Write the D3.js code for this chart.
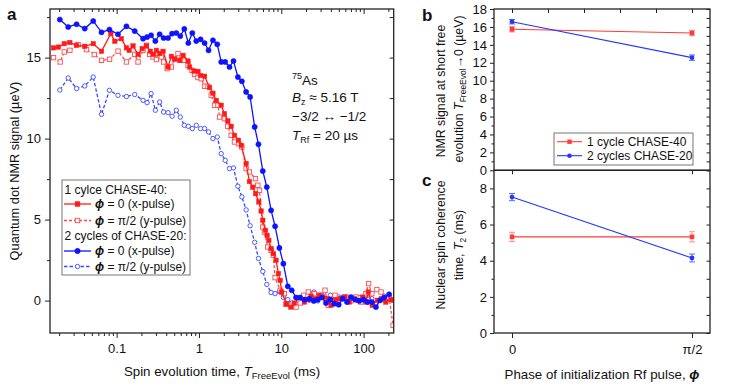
<!DOCTYPE html>
<html>
<head>
<meta charset="utf-8">
<script src="https://cdn.jsdelivr.net/npm/d3@7"></script>
<style>
  body { margin: 0; background: #fff; }
  svg text { font-family: "Liberation Sans", Arial, Helvetica, sans-serif; fill: #111; }
</style>
</head>
<body>
<svg id="chart" width="747" height="387"></svg>
<script>
// ---- panel a: NMR signal vs free evolution time (ms) ----
var tBlue = [0.0204,0.0258,0.0326,0.041,0.0519,0.0655,0.0817,0.1037,0.1315,0.1657,
  0.2094,0.2343,0.262,0.295,0.333,0.372,0.421,0.471,0.531,0.593,0.664,0.742,0.83,0.927,1.045,
  1.17,1.307,1.478,1.667,1.864,2.083,2.35,2.626,2.97,3.32,3.74,4.18,4.75,5.28,5.96,6.67,7.52,8.41,9.48,10.6,
  12.0,13.4,15.1,17.0,19.1,21.9,24.8,27.7,31.2,34.9,39.4,44.0,49.8,55.6,62.8,70.2,79.1,88.5,100,
  111.7,126,141,159,178,204];
var blueX = [17.35,16.89,17.06,16.79,17.26,16.56,16.73,16.44,16.93,16.64,
  16.17,16.27,16.38,16.02,16.44,16.21,16.21,16.48,16.52,16.33,16.77,15.9,16.52,16.02,16.13,
  15.9,15.45,16.07,15.82,14.73,14.73,14.42,14.79,13.8,13.54,12.88,12.57,10.72,9.65,8.0,7.01,5.57,4.59,3.25,2.28,
  0.88,0.64,0.19,0.19,0.06,0.12,-0.02,0.06,0.19,-0.15,0.06,-0.19,-0.25,0.12,-0.09,0.22,0.06,-0.02,0.06,
  -0.09,-0.09,-0.4,0.02,0.19,0.39];
var blueY = [13.0,13.74,13.09,13.25,13.8,11.5,12.98,12.67,12.6,12.72,
  12.36,12.22,12.78,11.75,12.26,11.64,11.6,11.38,11.75,11.33,10.82,10.76,10.62,10.82,10.62,
  10.62,10.41,10.0,10.1,9.07,8.66,8.15,8.19,7.06,6.4,5.6,4.62,3.6,2.6,1.8,1.0,0.5,0.43,0.55,0.19,
  0.06,-0.15,-0.19,-0.02,0.12,0.02,0.53,-0.02,0.33,0.12,0.33,-0.02,0.22,0.22,0.06,-0.02,0.19,0.19,0.06,
  0.33,0.12,-0.19,0.06,0.27,0.22];

var tRedX = [0.0171,0.0196,0.0231,0.027,0.0325,0.041,0.052,0.0655,0.085,0.095,
  0.114,0.1315,0.142,0.158,0.182,0.204,0.23,0.257,0.277,0.304,
  0.333,0.366,0.421,0.462,0.506,0.582,0.64,0.736,0.77,0.87,
  0.972,1.045,1.17,1.345,1.478,1.62,1.86,2.04,2.24,2.46,
  2.7,3.02,3.26,3.74,4.1,4.5,4.88,5.33,5.69,5.96,
  6.42,6.72,7.06,7.52,8.0,8.64,9.23,9.7,10.1,11.5,
  13.1,14.4,16.6,19.1,21.0,23.0,25.2,29.0,31.8,36.6,
  40.2,46.0,53.0,59.3,66.9,77.1,86.3,97.4,106.8,114,
  127,147,167,186,214,228];
var redX = [15.6,15.65,15.86,15.93,15.76,15.7,15.86,15.39,16.48,16.01,
  16.17,15.6,15.45,15.72,15.2,15.55,15.72,15.39,15.2,15.45,
  15.25,15.39,14.42,15.08,14.9,14.83,15.14,14.79,14.42,14.17,
  14.15,13.9,13.85,13.15,12.8,12.36,12.06,11.54,11.09,10.76,
  10.2,9.9,9.59,8.46,7.35,7.0,6.6,6.09,5.53,4.96,
  4.34,4.03,3.72,3.21,2.9,2.49,1.67,1.25,0.53,-0.2,
  -0.4,-0.15,0.19,-0.09,0.06,0.27,0.12,0.33,0.22,0.12,
  -0.29,0.06,0.12,0.22,-0.09,0.12,0.02,0.22,-0.09,0.53,
  -0.29,0.02,0.12,-0.09,0.06,0.02];

var tRedY = [0.0171,0.0206,0.0231,0.027,0.034,0.043,0.0535,0.0655,0.082,0.104,
  0.1315,0.166,0.182,0.209,0.23,0.252,0.277,0.304,0.318,0.349,
  0.372,0.41,0.462,0.506,0.556,0.61,0.669,0.736,0.823,0.884,
  0.972,1.066,1.17,1.285,1.41,1.545,1.7,1.78,2.04,2.24,
  2.46,2.7,3.02,3.32,3.74,4.1,4.85,5.18,5.43,5.96,
  6.24,6.85,7.52,8.0,8.4,9.7,10.9,11.4,13.1,15.1,
  17.0,18.7,21.3,25.2,29.8,34,37.2,44.9,53,61,
  70.2,80.7,92.7,106.8,115,126,145,163,183,204,228];
var redY = [15.0,14.73,15.35,15.45,15.8,15.49,15.19,14.83,14.9,15.4,
  14.73,15.2,14.73,15.45,15.76,15.2,15.04,14.88,15.25,15.04,
  14.73,14.32,14.42,14.94,15.25,14.83,14.83,14.52,14.21,13.97,
  13.77,13.7,13.23,13.23,12.67,12.06,12.06,11.33,11.23,10.76,
  10.2,9.79,9.69,9.48,8.15,7.94,7.53,7.12,6.81,4.54,
  4.23,3.31,3.1,2.8,1.42,0.64,0.43,-0.23,-0.29,-0.4,
  -0.15,0.33,0.53,0.43,0.33,0.64,-0.29,0.33,0.12,0.22,
  -0.02,0.22,-0.09,0.43,1.05,0.43,0.68,0.53,0.06,0.19,-1.52];

var xMajor = [0.1, 1, 10, 100];
var yMajorA = [0, 5, 10, 15];
var yMinorA = [2.5, 7.5, 12.5, 17.5];

// ---- panels b and c: vs phase of the initialization pulse ----
var phases = [0, 1];
var phaseLabels = ['0', 'π/2'];
var shortRed = [15.74, 15.32], shortRedErr = [0.3, 0.3];
var shortBlue = [16.58, 12.57], shortBlueErr = [0.25, 0.3];
var t2Red = [5.32, 5.32], t2RedErr = [0.25, 0.28];
var t2Blue = [7.52, 4.15], t2BlueErr = [0.2, 0.22];

var FONT = '"Liberation Sans", Arial, Helvetica, sans-serif';
var RED = '#ff1a1a', RED_OPEN = '#ff4a4a', BLUE = '#0d12ff', BLUE_OPEN = '#3a48ff';

var svg = d3.select('#chart');

function tidy(g, size) {
  g.attr('font-family', FONT).attr('font-size', size);
  g.select('.domain').remove();
  g.selectAll('line').attr('stroke', '#222').attr('stroke-width', 1);
  g.selectAll('text').attr('fill', '#111');
}

// ================= panel a =================
var A = {l: 50, r: 393.7, t: 9, b: 333};
var xA = d3.scaleLog().domain([0.0155, 232]).range([A.l, A.r]);
var yA = d3.scaleLinear().domain([-2, 18]).range([A.b, A.t]);
var xMinor = xA.ticks().filter(function(d) { return xMajor.indexOf(d) < 0; });

svg.append('g').attr('transform', 'translate(0,' + A.b + ')')
  .call(d3.axisBottom(xA).tickValues(xMajor).tickSize(5).tickPadding(6).tickFormat(d3.format('~g')))
  .call(tidy, 13);
svg.append('g').attr('transform', 'translate(0,' + A.b + ')')
  .call(d3.axisBottom(xA).tickValues(xMinor).tickSize(3).tickFormat(''))
  .call(tidy, 13);
svg.append('g').attr('transform', 'translate(0,' + A.t + ')')
  .call(d3.axisTop(xA).tickValues(xMajor).tickSize(-5).tickFormat(''))
  .call(tidy, 13);
svg.append('g').attr('transform', 'translate(0,' + A.t + ')')
  .call(d3.axisTop(xA).tickValues(xMinor).tickSize(-3).tickFormat(''))
  .call(tidy, 13);
svg.append('g').attr('transform', 'translate(' + A.l + ',0)')
  .call(d3.axisLeft(yA).tickValues(yMajorA).tickSize(5).tickPadding(4))
  .call(tidy, 13);
svg.append('g').attr('transform', 'translate(' + A.l + ',0)')
  .call(d3.axisLeft(yA).tickValues(yMinorA).tickSize(3).tickFormat(''))
  .call(tidy, 13);
svg.append('g').attr('transform', 'translate(' + A.r + ',0)')
  .call(d3.axisRight(yA).tickValues(yMajorA.concat(yMinorA)).tickSize(-4).tickFormat(''))
  .call(tidy, 13);

svg.append('clipPath').attr('id', 'clipA').append('rect')
  .attr('x', A.l).attr('y', A.t).attr('width', A.r - A.l).attr('height', A.b - A.t);

var seriesA = [
  {t: tBlue, v: blueY, color: BLUE_OPEN, dash: '3.5,2', shape: 'circle', open: true},
  {t: tRedY, v: redY, color: RED_OPEN, dash: '3,2', shape: 'square', open: true},
  {t: tRedX, v: redX, color: RED, dash: null, shape: 'square', open: false},
  {t: tBlue, v: blueX, color: BLUE, dash: null, shape: 'circle', open: false}
];

var plotA = svg.append('g').attr('clip-path', 'url(#clipA)');
var lineA = d3.line().x(function(d) { return xA(d[0]); }).y(function(d) { return yA(d[1]); });

seriesA.forEach(function(s) {
  var pts = s.t.map(function(t, i) { return [t, s.v[i]]; });
  plotA.append('path').datum(pts)
    .attr('d', lineA).attr('fill', 'none')
    .attr('stroke', s.color).attr('stroke-width', 1.3)
    .attr('stroke-dasharray', s.dash);
  var g = plotA.append('g');
  if (s.shape === 'square') {
    var sz = 4.4;
    g.selectAll('rect').data(pts).enter().append('rect')
      .attr('x', function(d) { return xA(d[0]) - sz / 2; })
      .attr('y', function(d) { return yA(d[1]) - sz / 2; })
      .attr('width', sz).attr('height', sz)
      .attr('fill', s.open ? '#fff' : s.color)
      .attr('stroke', s.color).attr('stroke-width', s.open ? 0.9 : 0.5);
  } else {
    g.selectAll('circle').data(pts).enter().append('circle')
      .attr('cx', function(d) { return xA(d[0]); })
      .attr('cy', function(d) { return yA(d[1]); })
      .attr('r', s.open ? 2.2 : 2.6)
      .attr('fill', s.open ? '#fff' : s.color)
      .attr('stroke', s.color).attr('stroke-width', s.open ? 0.9 : 0.5);
  }
});

svg.append('rect').attr('x', A.l).attr('y', A.t)
  .attr('width', A.r - A.l).attr('height', A.b - A.t)
  .attr('fill', 'none').attr('stroke', '#222').attr('stroke-width', 1.3);

// legend a
var legA = svg.append('g').attr('font-size', 12);
legA.append('rect').attr('x', 62).attr('y', 180).attr('width', 128).attr('height', 95)
  .attr('fill', '#fff').attr('stroke', '#666').attr('stroke-width', 0.9);
legA.append('text').attr('x', 64.5).attr('y', 193.5).text('1 cylce CHASE-40:');
legA.append('text').attr('x', 64.5).attr('y', 239.5).text('2 cycles of CHASE-20:');
var legRows = [
  {y: 204, s: seriesA[2], label: ' = 0 (x-pulse)'},
  {y: 220.5, s: seriesA[1], label: ' = π/2 (y-pulse)'},
  {y: 251, s: seriesA[3], label: ' = 0 (x-pulse)'},
  {y: 266.5, s: seriesA[0], label: ' = π/2 (y-pulse)'}
];
legRows.forEach(function(r) {
  legA.append('line').attr('x1', 64).attr('x2', 91).attr('y1', r.y).attr('y2', r.y)
    .attr('stroke', r.s.color).attr('stroke-width', 1.3).attr('stroke-dasharray', r.s.dash);
  if (r.s.shape === 'square') {
    legA.append('rect').attr('x', 77.5 - 2.2).attr('y', r.y - 2.2).attr('width', 4.4).attr('height', 4.4)
      .attr('fill', r.s.open ? '#fff' : r.s.color).attr('stroke', r.s.color).attr('stroke-width', 0.9);
  } else {
    legA.append('circle').attr('cx', 77.5).attr('cy', r.y).attr('r', r.s.open ? 2.2 : 2.6)
      .attr('fill', r.s.open ? '#fff' : r.s.color).attr('stroke', r.s.color).attr('stroke-width', 0.9);
  }
  var tx = legA.append('text').attr('x', 95).attr('y', r.y + 4);
  tx.append('tspan').attr('font-weight', 'bold').attr('font-style', 'italic').text('ϕ');
  tx.append('tspan').text(r.label);
});

// annotation
var ann = svg.append('g').attr('font-size', 13.5);
var t1 = ann.append('text').attr('x', 292).attr('y', 84.5);
t1.append('tspan').attr('font-size', 9).attr('dy', -5.5).text('75');
t1.append('tspan').attr('dy', 5.5).text('As');
var t2 = ann.append('text').attr('x', 292).attr('y', 102);
t2.append('tspan').attr('font-style', 'italic').text('B');
t2.append('tspan').attr('font-size', 9).attr('dy', 3).text('z');
t2.append('tspan').attr('dy', -3).text(' ≈ 5.16 T');
ann.append('text').attr('x', 292).attr('y', 120.5).text('−3/2 ↔ −1/2');
var t3 = ann.append('text').attr('x', 292).attr('y', 139.5);
t3.append('tspan').attr('font-style', 'italic').text('T');
t3.append('tspan').attr('font-size', 9).attr('dy', 3).text('Rf');
t3.append('tspan').attr('dy', -3).text(' = 20 µs');

// axis titles a
var xt = svg.append('text').attr('x', 222).attr('y', 375.5).attr('text-anchor', 'middle').attr('font-size', 13.3);
xt.append('tspan').text('Spin evolution time, ');
xt.append('tspan').attr('font-style', 'italic').text('T');
xt.append('tspan').attr('font-size', 9.5).attr('dy', 3).text('FreeEvol');
xt.append('tspan').attr('dy', -3).text(' (ms)');
svg.append('text').attr('transform', 'translate(19,171) rotate(-90)')
  .attr('text-anchor', 'middle').attr('font-size', 12.8)
  .text('Quantum dot NMR signal (µeV)');
svg.append('text').attr('x', 7).attr('y', 20).attr('font-size', 17).attr('font-weight', 'bold').text('a');

// ================= panels b and c =================
var B = {l: 494, r: 710, t: 9, b: 170.3};
var C = {l: 494, r: 710, t: 170.3, b: 333};
var xB = d3.scaleLinear().domain([-0.1, 1.1]).range([B.l, B.r]);
var yB = d3.scaleLinear().domain([0, 18]).range([B.b, B.t]);
var yC = d3.scaleLinear().domain([0, 9]).range([C.b, C.t]);

svg.append('g').attr('transform', 'translate(' + B.l + ',0)')
  .call(d3.axisLeft(yB).tickValues(d3.range(0, 19, 2)).tickSize(4).tickPadding(3))
  .call(tidy, 13);
svg.append('g').attr('transform', 'translate(' + B.l + ',0)')
  .call(d3.axisLeft(yB).tickValues(d3.range(1, 18, 2)).tickSize(2.5).tickFormat(''))
  .call(tidy, 13);
svg.append('g').attr('transform', 'translate(' + B.r + ',0)')
  .call(d3.axisRight(yB).tickValues(d3.range(0, 19, 1)).tickSize(-3.5).tickFormat(''))
  .call(tidy, 13);
svg.append('g').attr('transform', 'translate(0,' + B.t + ')')
  .call(d3.axisTop(xB).tickValues([0, 0.2, 0.4, 0.6, 0.8, 1]).tickSize(-4).tickFormat(''))
  .call(tidy, 13);

svg.append('g').attr('transform', 'translate(' + C.l + ',0)')
  .call(d3.axisLeft(yC).tickValues([0, 2, 4, 6, 8]).tickSize(4).tickPadding(3))
  .call(tidy, 13);
svg.append('g').attr('transform', 'translate(' + C.l + ',0)')
  .call(d3.axisLeft(yC).tickValues([1, 3, 5, 7]).tickSize(2.5).tickFormat(''))
  .call(tidy, 13);
svg.append('g').attr('transform', 'translate(' + C.r + ',0)')
  .call(d3.axisRight(yC).tickValues(d3.range(0, 10, 1)).tickSize(-3.5).tickFormat(''))
  .call(tidy, 13);
svg.append('g').attr('transform', 'translate(0,' + C.b + ')')
  .call(d3.axisBottom(xB).tickValues(phases).tickSize(5).tickPadding(7)
    .tickFormat(function(d, i) { return phaseLabels[i]; }))
  .call(tidy, 13);
svg.append('g').attr('transform', 'translate(0,' + C.t + ')')
  .call(d3.axisTop(xB).tickValues(phases).tickSize(-4).tickFormat(''))
  .call(tidy, 13);

function drawPhase(yS, vals, errs, color, errColor, shape) {
  var pts = phases.map(function(p, i) { return [p, vals[i], errs[i]]; });
  svg.append('path').datum(pts)
    .attr('d', d3.line().x(function(d) { return xB(d[0]); }).y(function(d) { return yS(d[1]); }))
    .attr('fill', 'none').attr('stroke', color).attr('stroke-width', 1.1);
  var g = svg.append('g');
  pts.forEach(function(d) {
    var x = xB(d[0]), y0 = yS(d[1] - d[2]), y1 = yS(d[1] + d[2]);
    g.append('line').attr('x1', x).attr('x2', x).attr('y1', y0).attr('y2', y1).attr('stroke', errColor);
    g.append('line').attr('x1', x - 3).attr('x2', x + 3).attr('y1', y0).attr('y2', y0).attr('stroke', errColor);
    g.append('line').attr('x1', x - 3).attr('x2', x + 3).attr('y1', y1).attr('y2', y1).attr('stroke', errColor);
    if (shape === 'square') {
      g.append('rect').attr('x', x - 2.3).attr('y', yS(d[1]) - 2.3).attr('width', 4.6).attr('height', 4.6).attr('fill', color);
    } else {
      g.append('circle').attr('cx', x).attr('cy', yS(d[1])).attr('r', 2.4).attr('fill', color);
    }
  });
}
var RED_B = '#ff3a3a', BLUE_B = '#2436ff';
drawPhase(yB, shortRed, shortRedErr, RED_B, '#ff8a8a', 'square');
drawPhase(yB, shortBlue, shortBlueErr, BLUE_B, '#5a6cff', 'circle');
drawPhase(yC, t2Red, t2RedErr, RED_B, '#ff8a8a', 'square');
drawPhase(yC, t2Blue, t2BlueErr, BLUE_B, '#5a6cff', 'circle');

svg.append('rect').attr('x', B.l).attr('y', B.t).attr('width', B.r - B.l).attr('height', B.b - B.t)
  .attr('fill', 'none').attr('stroke', '#222').attr('stroke-width', 1.3);
svg.append('rect').attr('x', C.l).attr('y', C.t).attr('width', C.r - C.l).attr('height', C.b - C.t)
  .attr('fill', 'none').attr('stroke', '#222').attr('stroke-width', 1.3);

// legend b
var legB = svg.append('g').attr('font-size', 12);
legB.append('rect').attr('x', 554).attr('y', 133).attr('width', 139).attr('height', 32)
  .attr('fill', '#fff').attr('stroke', '#666').attr('stroke-width', 0.9);
[{y: 141.7, c: RED_B, shape: 'square', label: '1 cycle CHASE-40'},
 {y: 155.7, c: BLUE_B, shape: 'circle', label: '2 cycles CHASE-20'}].forEach(function(r) {
  legB.append('line').attr('x1', 557).attr('x2', 582).attr('y1', r.y).attr('y2', r.y)
    .attr('stroke', r.c).attr('stroke-width', 1.1);
  if (r.shape === 'square') {
    legB.append('rect').attr('x', 569.5 - 2.2).attr('y', r.y - 2.2).attr('width', 4.4).attr('height', 4.4).attr('fill', r.c);
  } else {
    legB.append('circle').attr('cx', 569.5).attr('cy', r.y).attr('r', 2.3).attr('fill', r.c);
  }
  legB.append('text').attr('x', 587).attr('y', r.y + 4).text(r.label);
});

// titles b, c
function vtext(x, y, build) {
  var t = svg.append('text').attr('transform', 'translate(' + x + ',' + y + ') rotate(-90)')
    .attr('text-anchor', 'middle').attr('font-size', 12.3);
  build(t);
}
vtext(444.5, 91, function(t) { t.text('NMR signal at short free'); });
vtext(463, 89, function(t) {
  t.append('tspan').text('evolution ');
  t.append('tspan').attr('font-style', 'italic').text('T');
  t.append('tspan').attr('font-size', 8.5).attr('dy', 3).text('FreeEvol');
  t.append('tspan').attr('dy', -3).text('→0 (µeV)');
});
vtext(444.5, 245, function(t) { t.text('Nuclear spin coherence'); });
vtext(463, 245, function(t) {
  t.append('tspan').text('time, ');
  t.append('tspan').attr('font-style', 'italic').text('T');
  t.append('tspan').attr('font-size', 8.5).attr('dy', 3).text('2');
  t.append('tspan').attr('dy', -3).text(' (ms)');
});

var xtb = svg.append('text').attr('x', 602).attr('y', 379).attr('text-anchor', 'middle').attr('font-size', 13.3);
xtb.append('tspan').text('Phase of initialization Rf pulse, ');
xtb.append('tspan').attr('font-style', 'italic').attr('font-weight', 'bold').text('ϕ');

svg.append('text').attr('x', 422).attr('y', 21).attr('font-size', 17).attr('font-weight', 'bold').text('b');
svg.append('text').attr('x', 422).attr('y', 186).attr('font-size', 17).attr('font-weight', 'bold').text('c');
</script>
</body>
</html>
